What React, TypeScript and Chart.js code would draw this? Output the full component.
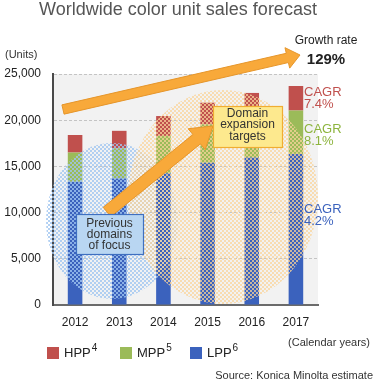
import React, { useEffect, useRef } from "react";
import { Chart, registerables } from "chart.js";

Chart.register(...registerables);

const FONT = "'Liberation Sans', Arial, Helvetica, sans-serif";

// ---- data ----
const years = ["2012", "2013", "2014", "2015", "2016", "2017"];
const lppValues = [13350, 13700, 14250, 15400, 15950, 16350];
const mppValues = [3150, 3250, 4050, 4150, 4450, 4700];
const hppValues = [1900, 1900, 2150, 2350, 2550, 2650];
const yTickValues = [0, 5000, 10000, 15000, 20000, 25000];
const seriesLabels = ["HPP", "MPP", "LPP"];
const seriesNotes = ["4", "5", "6"];
const cagrLabels = ["7.4%", "8.1%", "4.2%"];
const growthRate = "129%";

const RED = "#c0504d";
const GREEN = "#9bbb59";
const BLUE = "#3b62bd";

function dotPattern(ctx: CanvasRenderingContext2D, color: string) {
  const c = document.createElement("canvas");
  c.width = 4;
  c.height = 4;
  const g = c.getContext("2d")!;
  g.fillStyle = color;
  g.fillRect(0, 0, 2, 2);
  g.fillRect(2, 2, 2, 2);
  return ctx.createPattern(c, "repeat")!;
}

function arrow(
  ctx: CanvasRenderingContext2D,
  tx: number, ty: number, px: number, py: number,
  w: number, hw: number, hl: number
) {
  const dx = px - tx, dy = py - ty;
  const len = Math.hypot(dx, dy);
  const ux = dx / len, uy = dy / len;
  const nx = -uy, ny = ux;
  const bx = px - ux * hl, by = py - uy * hl;
  ctx.beginPath();
  ctx.moveTo(tx + nx * w / 2, ty + ny * w / 2);
  ctx.lineTo(bx + nx * w / 2, by + ny * w / 2);
  ctx.lineTo(bx + nx * hw / 2, by + ny * hw / 2);
  ctx.lineTo(px, py);
  ctx.lineTo(bx - nx * hw / 2, by - ny * hw / 2);
  ctx.lineTo(bx - nx * w / 2, by - ny * w / 2);
  ctx.lineTo(tx - nx * w / 2, ty - ny * w / 2);
  ctx.closePath();
  ctx.fillStyle = "#f8a93a";
  ctx.fill();
  ctx.strokeStyle = "#e6962b";
  ctx.lineWidth = 1;
  ctx.stroke();
}

function box(
  ctx: CanvasRenderingContext2D,
  x: number, y: number, w: number, h: number,
  fill: string, stroke: string, lines: string[], lineY: number[]
) {
  ctx.fillStyle = fill;
  ctx.fillRect(x + 0.5, y + 0.5, w, h);
  ctx.strokeStyle = stroke;
  ctx.lineWidth = 1.2;
  ctx.strokeRect(x + 0.5, y + 0.5, w, h);
  ctx.fillStyle = "#333";
  ctx.font = `12px ${FONT}`;
  ctx.textAlign = "center";
  ctx.textBaseline = "middle";
  lines.forEach((t, i) => ctx.fillText(t, x + w / 2, lineY[i]));
}

const overlayPlugin = {
  id: "overlay",
  beforeDraw(chart: any) {
    const { ctx, chartArea: a } = chart;
    ctx.save();
    ctx.fillStyle = "#f2f2f2";
    ctx.fillRect(a.left, a.top, a.right - a.left, a.bottom - a.top);
    ctx.restore();
  },
  afterDatasetsDraw(chart: any) {
    const ctx: CanvasRenderingContext2D = chart.ctx;
    ctx.save();
    // dotted ellipses
    ctx.fillStyle = dotPattern(ctx, "rgba(160,198,240,0.8)");
    ctx.beginPath();
    ctx.ellipse(112, 221, 66, 78, 0, 0, Math.PI * 2);
    ctx.fill();
    ctx.fillStyle = dotPattern(ctx, "rgba(250,212,155,0.75)");
    ctx.beginPath();
    ctx.ellipse(223, 197, 95, 107, 0, 0, Math.PI * 2);
    ctx.fill();

    // arrows
    arrow(ctx, 63, 109.5, 300, 55, 9.5, 21, 13);
    arrow(ctx, 107, 212, 213, 126, 12, 27, 21);

    // boxes
    box(ctx, 76, 214, 67, 40, "#b9d6f2", "#3f6fc0",
      ["Previous", "domains", "of focus"], [223.5, 235, 246]);
    box(ctx, 213, 106, 69, 41, "#fde98e", "#f0ad32",
      ["Domain", "expansion", "targets"], [113.5, 125, 136.5]);

    // CAGR labels
    ctx.textAlign = "left";
    ctx.textBaseline = "middle";
    ctx.font = `13px ${FONT}`;
    const cagrColors = [RED, "#8db43e", BLUE];
    const cagrY = [92, 129.5, 209.5];
    cagrLabels.forEach((v, i) => {
      ctx.fillStyle = cagrColors[i];
      ctx.fillText("CAGR", 304, cagrY[i]);
      ctx.fillText(v, 304, cagrY[i] + 12);
    });
    ctx.restore();
  },
  afterDraw(chart: any) {
    const ctx: CanvasRenderingContext2D = chart.ctx;
    ctx.save();
    // title
    ctx.fillStyle = "#555";
    ctx.font = `18px ${FONT}`;
    ctx.textAlign = "center";
    ctx.textBaseline = "alphabetic";
    ctx.fillText("Worldwide color unit sales forecast", 178, 15);

    // growth rate
    ctx.fillStyle = "#222";
    ctx.textBaseline = "middle";
    ctx.font = `12px ${FONT}`;
    ctx.fillText("Growth rate", 326, 41);
    ctx.font = `bold 15px ${FONT}`;
    ctx.fillText(growthRate, 326, 59.5);

    // units
    ctx.fillStyle = "#333";
    ctx.font = `11px ${FONT}`;
    ctx.textAlign = "left";
    ctx.fillText("(Units)", 5, 55);

    // notes
    ctx.textAlign = "right";
    ctx.fillText("(Calendar years)", 370, 343);
    ctx.fillText("Source: Konica Minolta estimate", 373, 376);

    // legend
    const colors = [RED, GREEN, BLUE];
    const sx = [47, 120, 190];
    seriesLabels.forEach((lab, i) => {
      ctx.fillStyle = colors[i];
      ctx.fillRect(sx[i], 347, 12, 12);
      ctx.fillStyle = "#222";
      ctx.textAlign = "left";
      ctx.font = `13px ${FONT}`;
      ctx.fillText(lab, sx[i] + 17, 353.5);
      const w = ctx.measureText(lab).width;
      ctx.font = `10px ${FONT}`;
      ctx.fillText(seriesNotes[i], sx[i] + 17 + w + 1, 348);
    });
    ctx.restore();
  },
};

export default function App() {
  const ref = useRef<HTMLCanvasElement | null>(null);
  useEffect(() => {
    if (!ref.current) return;
    const chart = new Chart(ref.current, {
      type: "bar",
      data: {
        labels: years,
        datasets: [
          { label: seriesLabels[2], data: lppValues, backgroundColor: BLUE },
          { label: seriesLabels[1], data: mppValues, backgroundColor: GREEN },
          { label: seriesLabels[0], data: hppValues, backgroundColor: RED },
        ],
      },
      options: {
        responsive: false,
        animation: false,
        devicePixelRatio: 1,
        layout: { padding: { top: 74, right: 58, bottom: 45, left: 0 } },
        datasets: { bar: { barPercentage: 0.33, categoryPercentage: 1 } },
        plugins: { legend: { display: false }, tooltip: { enabled: false } },
        scales: {
          x: {
            stacked: true,
            grid: { display: false, drawTicks: false },
            border: { display: true, color: "#6b6b6b", width: 2 },
            ticks: { color: "#222", font: { size: 12, family: FONT }, padding: 10 },
            afterFit: (s: any) => { s.height = 30; },
          },
          y: {
            stacked: true,
            min: 0,
            max: 25000,
            afterBuildTicks: (s: any) => { s.ticks = yTickValues.map((v) => ({ value: v })); },
            grid: { color: "#c4c4c4", drawTicks: false, lineWidth: 1 },
            border: { display: true, color: "#4a4a4a", width: 2, dash: [3, 2] },
            ticks: {
              color: "#222",
              font: { size: 12, family: FONT },
              padding: 12,
              callback: (v: any) => Number(v).toLocaleString("en-US"),
            },
            afterFit: (s: any) => { s.width = 53; },
          },
        },
      } as any,
      plugins: [overlayPlugin],
    });
    return () => chart.destroy();
  }, []);
  return (
    <div style={{ position: "absolute", left: 0, top: 0, width: 376, height: 380, background: "#fff" }}>
      <canvas ref={ref} width={376} height={380} style={{ display: "block" }} />
    </div>
  );
}
